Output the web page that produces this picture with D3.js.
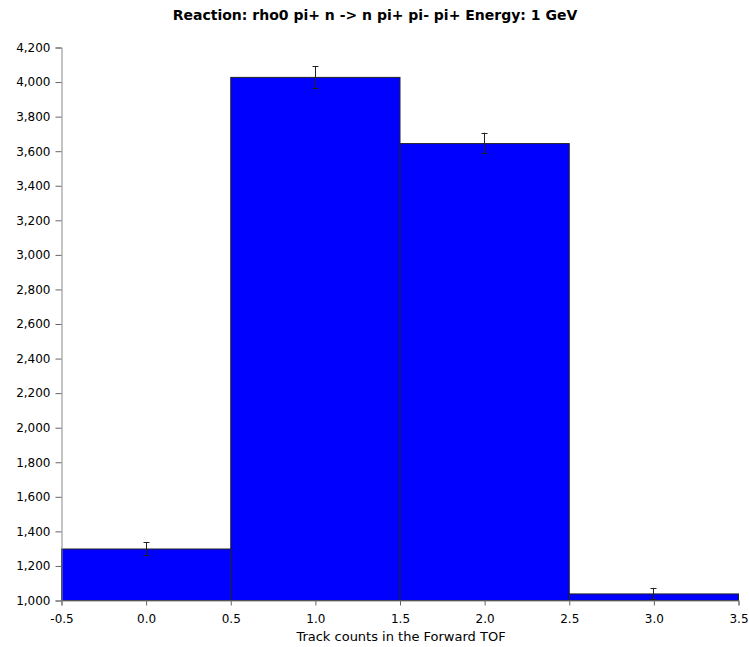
<!DOCTYPE html>
<html><head><meta charset="utf-8">
<script src="https://cdn.jsdelivr.net/npm/d3@7"></script>
<style>body{margin:0;background:#fff}svg{display:block}</style>
</head><body>
<script>
const binCenters = [0, 1, 2, 3];
const counts = [1298, 4027, 3644, 1038];
const errors = [36, 63, 60, 32];
const xTicks = [-0.5, 0, 0.5, 1, 1.5, 2, 2.5, 3, 3.5];
const yTicks = [1000,1200,1400,1600,1800,2000,2200,2400,2600,2800,3000,3200,3400,3600,3800,4000,4200];
const title = "Reaction: rho0 pi+ n -> n pi+ pi- pi+ Energy: 1 GeV";
const xLabel = "Track counts in the Forward TOF";

const W = 749, H = 647;
const m = {left: 61, right: 11, top: 47, bottom: 47};
const svg = d3.select("body").append("svg").attr("width", W).attr("height", H);
const x = d3.scaleLinear().domain([-0.5, 3.5]).range([m.left, W - m.right]);
const y = d3.scaleLinear().domain([1000, 4200]).range([H - m.bottom, m.top]);
const font = "'DejaVu Sans', sans-serif";

svg.selectAll("rect.bar").data(binCenters).join("rect")
  .attr("x", d => x(d - 0.5) + 0.5)
  .attr("y", (d, i) => y(counts[i]) + 0.5)
  .attr("width", d => x(d + 0.5) - x(d - 0.5))
  .attr("height", (d, i) => y(1000) - y(counts[i]))
  .attr("fill", "#0000ff").attr("stroke", "#222").attr("stroke-width", 1);

const eb = svg.append("g").attr("stroke", "#222").attr("stroke-width", 1);
binCenters.forEach((c, i) => {
  const xc = Math.round(x(c)) + 0.5;
  const t = y(Math.min(counts[i] + errors[i], 4200)), b = y(Math.max(counts[i] - errors[i], 1000));
  eb.append("line").attr("x1", xc).attr("x2", xc).attr("y1", t).attr("y2", b);
  eb.append("line").attr("x1", xc - 3).attr("x2", xc + 3).attr("y1", Math.round(t) + 0.5).attr("y2", Math.round(t) + 0.5);
  eb.append("line").attr("x1", xc - 3).attr("x2", xc + 3).attr("y1", Math.round(b) + 0.5).attr("y2", Math.round(b) + 0.5);
});

const xa = svg.append("g").attr("transform", `translate(0.5,${H - m.bottom + 0.5})`)
  .call(d3.axisBottom(x).tickValues(xTicks).tickFormat(d3.format(".1f")).tickSizeOuter(0).tickSize(5).tickPadding(9));
const ya = svg.append("g").attr("transform", `translate(${m.left + 0.5},0.5)`)
  .call(d3.axisLeft(y).tickValues(yTicks).tickFormat(d3.format(",")).tickSizeOuter(0).tickSize(6).tickPadding(5));
[xa, ya].forEach(a => {
  a.select(".domain").attr("stroke", "#888");
  a.selectAll(".tick line").attr("stroke", "#666");
  a.selectAll("text").attr("font-family", font).attr("font-size", 12).attr("fill", "#000");
});
xa.selectAll("text").text(d => d < 0 ? "-" + Math.abs(d).toFixed(1) : d.toFixed(1));

svg.append("text").attr("x", 375).attr("y", 20).attr("text-anchor", "middle")
  .attr("font-family", font).attr("font-weight", "bold").attr("font-size", 14).text(title);
svg.append("text").attr("x", 401).attr("y", 641).attr("text-anchor", "middle")
  .attr("font-family", font).attr("font-size", 13).text(xLabel);
</script>
</body></html>
